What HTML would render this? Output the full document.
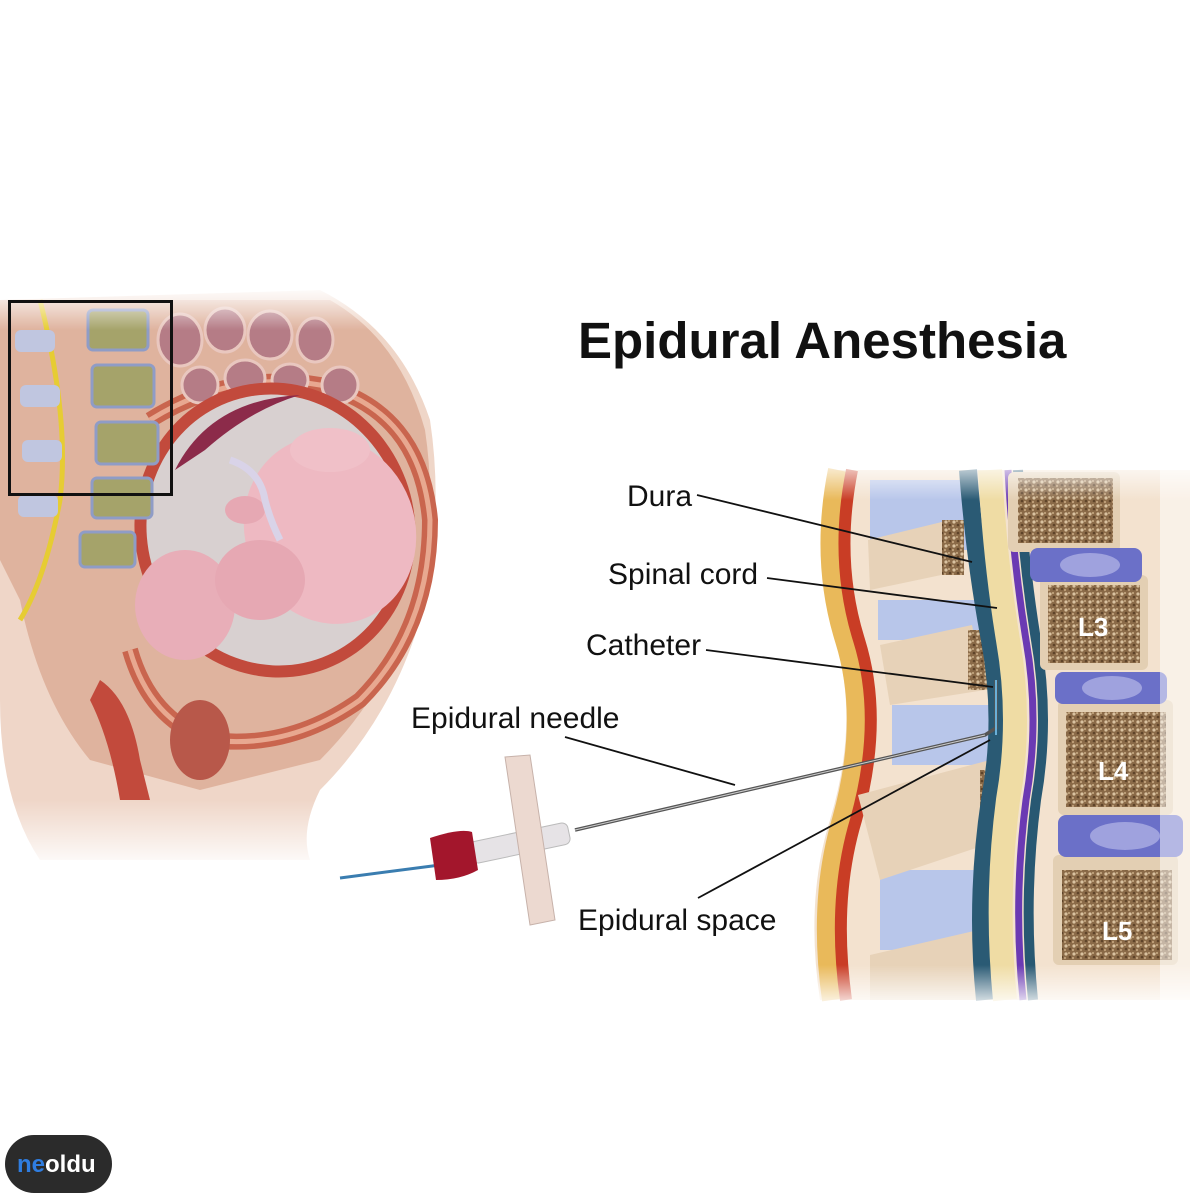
<!DOCTYPE html>
<html><head><meta charset="utf-8"><style>
html,body{margin:0;padding:0;background:#fff;}
svg{display:block}
text{font-family:"Liberation Sans",sans-serif;}
</style></head><body>
<svg width="1200" height="1200" viewBox="0 0 1200 1200" xmlns="http://www.w3.org/2000/svg">
<defs>
<linearGradient id="fT" x1="0" x2="0" y1="0" y2="1"><stop offset="0" stop-color="#fff" stop-opacity="1"/><stop offset="1" stop-color="#fff" stop-opacity="0"/></linearGradient>
<linearGradient id="fB" x1="0" x2="0" y1="0" y2="1"><stop offset="0" stop-color="#fff" stop-opacity="0"/><stop offset="1" stop-color="#fff" stop-opacity="1"/></linearGradient>
<pattern id="spk" width="8" height="8" patternUnits="userSpaceOnUse"><rect width="8" height="8" fill="#8a6a48"/><circle cx="2" cy="2" r="1.6" fill="#d9c2a0"/><circle cx="6" cy="5" r="1.3" fill="#5e4329"/><circle cx="5" cy="1" r="1" fill="#c9ad86"/><circle cx="1" cy="6" r="1.1" fill="#bfa07a"/></pattern>
</defs>
<rect width="1200" height="1200" fill="#fff"/>

<path d="M0 300 L320 290 Q400 330 430 420 Q445 520 420 620 Q390 720 320 790 Q300 830 310 860 L40 860 Q0 800 0 700 Z" fill="#efd6c8"/>
<path d="M0 300 L330 300 Q400 340 425 430 Q440 530 410 620 Q380 700 320 760 L200 790 L90 760 Q40 700 20 600 L0 560 Z" fill="#d9a48c" opacity="0.7"/>
<path d="M150 420 Q230 370 320 385 Q420 410 430 520 Q430 630 360 700 Q290 750 210 740 Q150 720 130 650" fill="none" stroke="#c9654e" stroke-width="16"/>
<path d="M150 420 Q230 370 320 385 Q420 410 430 520 Q430 630 360 700 Q290 750 210 740 Q150 720 130 650" fill="none" stroke="#e8a890" stroke-width="5"/>
<g fill="#b57c86" stroke="#e9c7bf" stroke-width="3">
<ellipse cx="180" cy="340" rx="22" ry="26"/><ellipse cx="225" cy="330" rx="20" ry="22"/><ellipse cx="270" cy="335" rx="22" ry="24"/><ellipse cx="315" cy="340" rx="18" ry="22"/>
<ellipse cx="200" cy="385" rx="18" ry="18"/><ellipse cx="245" cy="378" rx="20" ry="18"/><ellipse cx="290" cy="380" rx="18" ry="16"/><ellipse cx="340" cy="385" rx="18" ry="18"/>
</g>
<ellipse cx="275" cy="530" rx="140" ry="148" fill="#c24a3c" transform="rotate(-15 275 530)"/>
<ellipse cx="275" cy="530" rx="128" ry="136" fill="#d8d0d0" transform="rotate(-15 275 530)"/>
<path d="M175 470 Q210 400 300 395 Q250 410 205 450 Z" fill="#8c2b4a"/>
<ellipse cx="185" cy="605" rx="50" ry="55" fill="#e8aeb8"/>
<ellipse cx="330" cy="530" rx="85" ry="95" fill="#eeb9c2" transform="rotate(-20 330 530)"/>
<ellipse cx="260" cy="580" rx="45" ry="40" fill="#e6a8b3"/>
<ellipse cx="330" cy="450" rx="40" ry="22" fill="#f0c0c8"/>
<ellipse cx="245" cy="510" rx="20" ry="14" fill="#e6a8b3"/>
<path d="M230 460 Q260 470 265 500 Q270 520 280 540" fill="none" stroke="#d9d3e8" stroke-width="7"/>
<path d="M100 680 Q130 700 140 760 L150 800 L120 800 Q110 740 90 700 Z" fill="#c24a3c"/>
<ellipse cx="200" cy="740" rx="30" ry="40" fill="#b8584a"/>
<path d="M40 300 Q70 420 60 500 Q45 580 20 620" fill="none" stroke="#e6cc33" stroke-width="5"/>
<g fill="#a5a36a" stroke="#8f9cc6" stroke-width="3">
<rect x="88" y="310" width="60" height="40" rx="5"/><rect x="92" y="365" width="62" height="42" rx="5"/><rect x="96" y="422" width="62" height="42" rx="5"/><rect x="92" y="478" width="60" height="40" rx="5"/><rect x="80" y="532" width="55" height="35" rx="5"/>
</g>
<g fill="#c0c6e0"><rect x="15" y="330" width="40" height="22" rx="6"/><rect x="20" y="385" width="40" height="22" rx="6"/><rect x="22" y="440" width="40" height="22" rx="6"/><rect x="18" y="495" width="40" height="22" rx="6"/></g>
<rect x="0" y="0" width="1200" height="290" fill="#fff"/>
<rect x="0" y="285" width="440" height="45" fill="url(#fT)"/>
<rect x="0" y="800" width="440" height="70" fill="url(#fB)"/>
<rect x="9.5" y="301.5" width="162" height="193" fill="none" stroke="#111" stroke-width="3"/>

<text x="578" y="358" font-size="51" font-weight="bold" fill="#111">Epidural Anesthesia</text>

<path d="M830 470 Q810 560 835 640 Q860 720 830 820 Q805 900 820 1000 L1190 1000 L1190 470 Z" fill="#f3e2cf"/>
<path d="M838 470 Q820 560 845 640 Q870 720 842 820 Q818 900 832 1000" fill="none" stroke="#e9b95a" stroke-width="20"/>
<path d="M852 470 Q834 560 859 640 Q884 720 856 820 Q832 900 846 1000" fill="none" stroke="#c93d25" stroke-width="12"/>
<g fill="#b8c6ea"><rect x="870" y="480" width="100" height="70"/><rect x="878" y="600" width="110" height="40"/><rect x="892" y="705" width="100" height="60"/><rect x="880" y="870" width="110" height="80"/></g>
<g fill="#e7d2b8"><path d="M868 540 L950 520 L965 570 L870 590 Z"/><path d="M880 645 L972 625 L985 690 L890 705 Z"/><path d="M858 795 L990 760 L1000 840 L880 880 Z"/><path d="M870 955 L1000 925 L1005 1000 L870 1000 Z"/></g>
<g fill="url(#spk)"><rect x="942" y="520" width="22" height="55"/><rect x="968" y="630" width="20" height="60"/><rect x="980" y="770" width="22" height="75"/><rect x="985" y="935" width="18" height="60"/></g>
<path d="M968 470 Q975 560 990 640 Q1005 720 990 800 Q975 900 985 1000" fill="none" stroke="#2a5a74" stroke-width="18"/>
<path d="M990 470 Q995 560 1008 640 Q1022 720 1008 800 Q995 900 1005 1000" fill="none" stroke="#efdca4" stroke-width="24"/>
<path d="M1008 470 Q1013 560 1026 640 Q1040 720 1026 800 Q1013 900 1023 1000" fill="none" stroke="#6b3ab3" stroke-width="7"/>
<path d="M1018 470 Q1023 560 1036 640 Q1050 720 1036 800 Q1023 900 1033 1000" fill="none" stroke="#285872" stroke-width="10"/>
<g fill="#e3cfb3"><rect x="1008" y="472" width="112" height="80" rx="6"/><rect x="1040" y="575" width="108" height="95" rx="6"/><rect x="1058" y="700" width="115" height="115" rx="6"/><rect x="1053" y="855" width="125" height="110" rx="6"/></g>
<g fill="url(#spk)"><rect x="1018" y="478" width="95" height="65"/><rect x="1048" y="585" width="92" height="78"/><rect x="1066" y="712" width="100" height="95"/><rect x="1062" y="870" width="110" height="90"/></g>
<g fill="#6b70c8"><rect x="1030" y="548" width="112" height="34" rx="8"/><rect x="1055" y="672" width="112" height="32" rx="8"/><rect x="1058" y="815" width="125" height="42" rx="8"/></g>
<g fill="#9fa2de"><ellipse cx="1090" cy="565" rx="30" ry="12"/><ellipse cx="1112" cy="688" rx="30" ry="12"/><ellipse cx="1125" cy="836" rx="35" ry="14"/></g>
<g font-size="26" font-weight="bold" fill="#fff"><text x="1078" y="636">L3</text><text x="1098" y="780">L4</text><text x="1102" y="940">L5</text></g>
<rect x="800" y="455" width="400" height="45" fill="url(#fT)"/>
<rect x="800" y="965" width="400" height="45" fill="url(#fB)"/>
<rect x="1160" y="455" width="40" height="560" fill="#fff" opacity="0.5"/>

<path d="M575 830 L985 735 L996 728 L996 680" fill="none" stroke="#555" stroke-width="3.5"/>
<path d="M575 830 L985 735" fill="none" stroke="#ccc" stroke-width="1"/>
<path d="M996 680 L996 735" stroke="#6ab0d8" stroke-width="2"/>
<path d="M340 878 L440 865" stroke="#3a7db0" stroke-width="3"/>
<rect x="470" y="832" width="100" height="22" rx="6" fill="#e6e3e6" stroke="#bbb" transform="rotate(-12 520 843)"/>
<path d="M505 757 L530 755 L555 920 L530 925 Z" fill="#ecd9d0" stroke="#c7b2aa"/>
<path d="M430 838 Q460 828 472 832 L478 870 Q460 880 436 880 Z" fill="#a3162c"/>
<g stroke="#111" stroke-width="1.8" fill="none">
<path d="M697 495 L972 562"/><path d="M767 578 L997 608"/><path d="M706 650 L993 687"/><path d="M565 737 L735 785"/><path d="M698 898 L990 740"/>
</g>
<g font-size="30" fill="#111">
<text x="627" y="506">Dura</text>
<text x="608" y="584">Spinal cord</text>
<text x="586" y="655">Catheter</text>
<text x="411" y="728">Epidural needle</text>
<text x="578" y="930">Epidural space</text>
</g>

<rect x="5" y="1135" width="107" height="58" rx="29" fill="#2b2b2b"/>
<text x="17" y="1172" font-size="24" font-weight="bold" fill="#fff"><tspan fill="#2f7de0">ne</tspan>oldu</text>
</svg>
</body></html>
